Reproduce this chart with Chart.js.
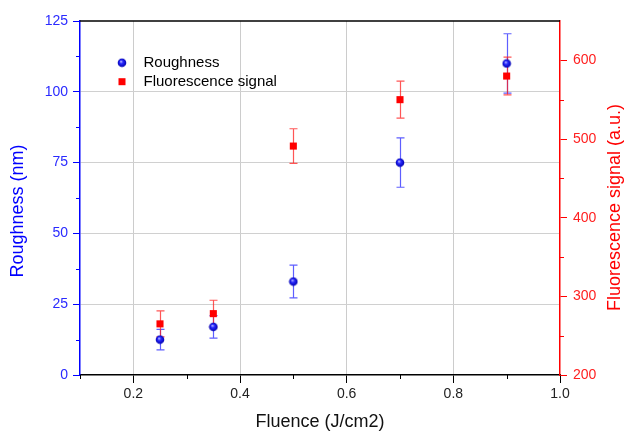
<!DOCTYPE html>
<html>
<head>
<meta charset="utf-8">
<script src="https://cdn.jsdelivr.net/npm/chart.js@4.4.0/dist/chart.umd.min.js"></script>
<style>
  html, body { margin: 0; padding: 0; background: #fff; }
</style>
</head>
<body>
<canvas id="chart" width="626" height="434"></canvas>
<script>
// values
const fluence = [0.25, 0.35, 0.5, 0.7, 0.9];
const roughness = [12.5, 17, 33, 75, 110];
const roughnessErr = [3.6, 4, 5.8, 8.7, 10.5];
const fluorescence = [265, 278, 491, 550, 580];
const fluorescenceErr = [16.5, 17, 22, 23.5, 24];

const xTicks = [0.2, 0.4, 0.6, 0.8, 1.0];
const xMinorTicks = [0.1, 0.3, 0.5, 0.7, 0.9];
const leftTicks = [0, 25, 50, 75, 100, 125];
const leftMinorTicks = [12.5, 37.5, 62.5, 87.5, 112.5];
const rightTicks = [200, 300, 400, 500, 600];
const rightMinorTicks = [250, 350, 450, 550];

const family = "'Liberation Sans', Arial, sans-serif";
const blue = '#0000ff';
const red = '#ff0000';

// shaded ball marker used for the roughness points
function makeBall(r) {
  const c = document.createElement('canvas');
  const s = Math.ceil(r * 2) + 1;
  c.width = c.height = s;
  const g = c.getContext('2d');
  const m = s / 2;
  const grad = g.createRadialGradient(m - 1, m - 1.3, 0.3, m, m, r);
  grad.addColorStop(0, '#b8b8ff');
  grad.addColorStop(0.35, '#2a2aff');
  grad.addColorStop(1, '#0000b0');
  g.fillStyle = grad;
  g.beginPath();
  g.arc(m, m, r, 0, Math.PI * 2);
  g.fill();
  return c;
}
const ball = makeBall(4.3);

const errorBars = {
  id: 'errorBars',
  beforeDatasetsDraw(chart) {
    const ctx = chart.ctx;
    chart.data.datasets.forEach((ds) => {
      const xs = chart.scales.x;
      const ys = chart.scales[ds.yAxisID];
      ctx.save();
      ctx.strokeStyle = ds.errorColor;
      ctx.lineWidth = 1.2;
      ds.data.forEach((p, j) => {
        const x = Math.round(xs.getPixelForValue(p.x)) + 0.5;
        const top = ys.getPixelForValue(p.y + ds.errors[j]);
        const bot = ys.getPixelForValue(p.y - ds.errors[j]);
        ctx.beginPath();
        ctx.moveTo(x, top); ctx.lineTo(x, bot);
        ctx.moveTo(x - 4, top); ctx.lineTo(x + 4, top);
        ctx.moveTo(x - 4, bot); ctx.lineTo(x + 4, bot);
        ctx.stroke();
      });
      ctx.restore();
    });
  }
};

const frame = {
  id: 'frame',
  afterDraw(chart) {
    const { ctx, chartArea: a, scales } = chart;
    const seg = (x1, y1, x2, y2) => { ctx.beginPath(); ctx.moveTo(x1, y1); ctx.lineTo(x2, y2); ctx.stroke(); };
    ctx.save();
    ctx.lineWidth = 1;
    ctx.strokeStyle = '#000';
    xMinorTicks.forEach(v => {
      const x = Math.round(scales.x.getPixelForValue(v)) + 0.5;
      seg(x, a.bottom, x, a.bottom + 4);
    });
    ctx.strokeStyle = blue;
    leftMinorTicks.forEach(v => {
      const y = Math.round(scales.y.getPixelForValue(v)) + 0.5;
      seg(a.left - 4, y, a.left, y);
    });
    ctx.strokeStyle = red;
    rightMinorTicks.forEach(v => {
      const y = Math.round(scales.y1.getPixelForValue(v)) + 0.5;
      seg(a.right, y, a.right + 4, y);
    });
    // top border
    ctx.strokeStyle = '#000';
    ctx.lineWidth = 1.5;
    seg(a.left, a.top, a.right, a.top);

    // rotated axis titles
    ctx.font = '18px ' + family;
    ctx.textAlign = 'center';
    ctx.textBaseline = 'middle';
    ctx.fillStyle = blue;
    ctx.save();
    ctx.translate(18, 211);
    ctx.rotate(-Math.PI / 2);
    ctx.fillText('Roughness (nm)', 0, 0);
    ctx.restore();
    ctx.fillStyle = red;
    ctx.save();
    ctx.translate(615, 207.5);
    ctx.rotate(-Math.PI / 2);
    ctx.fillText('Fluorescence signal (a.u.)', 0, 0);
    ctx.restore();

    // legend inside the plot
    ctx.font = '15px ' + family;
    ctx.textAlign = 'left';
    ctx.fillStyle = '#000';
    chart.data.datasets.forEach((ds, i) => {
      const y = 62.7 + i * 19;
      if (ds.pointStyle === 'rect') {
        ctx.fillStyle = ds.backgroundColor;
        ctx.fillRect(118.5, y - 3.5, 7, 7);
      } else {
        ctx.drawImage(ball, 122 - ball.width / 2, y - ball.height / 2);
      }
      ctx.fillStyle = '#000';
      ctx.fillText(ds.label, 143.5, y);
    });
    ctx.restore();
  }
};

new Chart(document.getElementById('chart'), {
  type: 'scatter',
  data: {
    datasets: [
      {
        label: 'Roughness',
        data: fluence.map((x, i) => ({ x, y: roughness[i] })),
        errors: roughnessErr,
        errorColor: 'rgba(40, 40, 255, 0.75)',
        yAxisID: 'y',
        pointStyle: ball,
        pointRadius: 4.5,
        backgroundColor: blue,
        borderColor: blue
      },
      {
        label: 'Fluorescence signal',
        data: fluence.map((x, i) => ({ x, y: fluorescence[i] })),
        errors: fluorescenceErr,
        errorColor: 'rgba(255, 30, 30, 0.75)',
        yAxisID: 'y1',
        pointStyle: 'rect',
        pointRadius: 5,
        borderWidth: 0,
        backgroundColor: red,
        borderColor: red
      }
    ]
  },
  options: {
    responsive: false,
    animation: false,
    layout: { padding: { top: 21, left: 0, right: 0, bottom: 0 } },
    plugins: { legend: { display: false }, tooltip: { enabled: false } },
    scales: {
      x: {
        type: 'linear',
        min: 0.1,
        max: 1.0,
        afterBuildTicks: s => { s.ticks = xTicks.map(v => ({ value: v })); },
        afterFit: s => { s.height = 59; },
        grid: {
          color: c => (c.tick && c.tick.value < 0.99) ? '#cccccc' : 'rgba(0,0,0,0)',
          tickColor: '#000',
          tickLength: 8,
          lineWidth: 1
        },
        border: { color: '#000', width: 1.5 },
        ticks: {
          color: '#222',
          font: { size: 14, family },
          padding: 3,
          maxRotation: 0,
          callback: v => v.toFixed(1)
        },
        title: {
          display: true,
          text: 'Fluence (J/cm2)',
          color: '#111',
          font: { size: 18, family },
          padding: { top: 0, bottom: 1 }
        }
      },
      y: {
        position: 'left',
        min: 0,
        max: 125,
        afterBuildTicks: s => { s.ticks = leftTicks.map(v => ({ value: v })); },
        afterFit: s => { s.width = 80; },
        grid: {
          color: c => (c.tick && c.tick.value > 0 && c.tick.value < 125) ? '#d0d0d0' : 'rgba(0,0,0,0)',
          tickColor: blue,
          tickLength: 7
        },
        border: { color: blue, width: 1.5 },
        ticks: { color: '#2a2aff', font: { size: 14, family }, padding: 5 }
      },
      y1: {
        position: 'right',
        min: 200,
        max: 650,
        afterBuildTicks: s => { s.ticks = rightTicks.map(v => ({ value: v })); },
        afterFit: s => { s.width = 66; },
        grid: { drawOnChartArea: false, tickColor: red, tickLength: 7 },
        border: { color: red, width: 1.5 },
        ticks: { color: '#ff2020', font: { size: 14, family }, padding: 6 }
      }
    }
  },
  plugins: [errorBars, frame]
});
</script>
</body>
</html>
